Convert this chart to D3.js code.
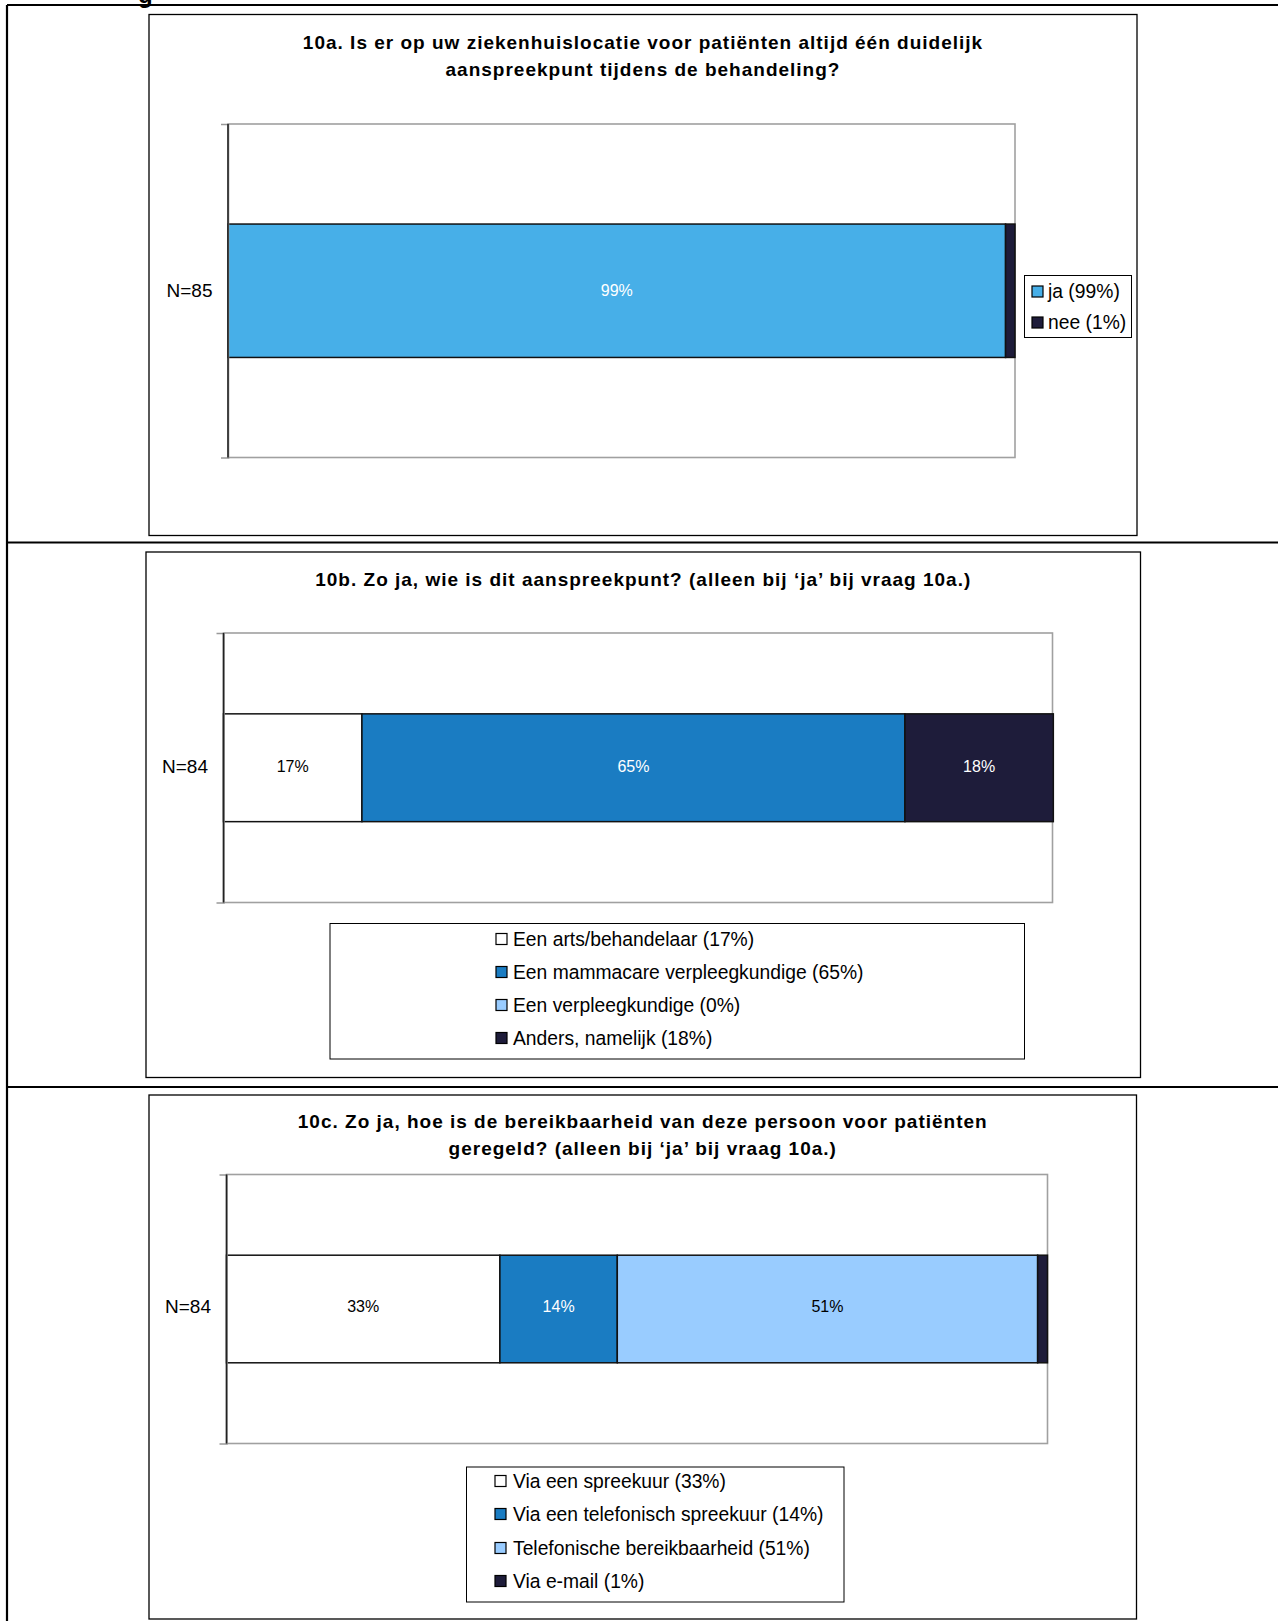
<!DOCTYPE html>
<html>
<head>
<meta charset="utf-8">
<script src="https://cdn.jsdelivr.net/npm/d3@7"></script>
<style>
  html, body { margin: 0; padding: 0; background: #fff; }
  svg { display: block; }
  text { font-family: "Liberation Sans", Arial, sans-serif; }
</style>
</head>
<body>
<svg id="chart" width="1278" height="1621"></svg>
<script>
// ---------------- DATA ----------------
const q10aTitle = ["10a. Is er op uw ziekenhuislocatie voor patiënten altijd één duidelijk",
                   "aanspreekpunt tijdens de behandeling?"];
const q10aCategories = ["N=85"];
const q10aSeries = ["ja (99%)", "nee (1%)"];
const q10aValues = [98.8, 1.2];
const q10aBarLabels = ["99%", ""];

const q10bTitle = ["10b. Zo ja, wie is dit aanspreekpunt? (alleen bij \u2018ja\u2019 bij vraag 10a.)"];
const q10bCategories = ["N=84"];
const q10bSeries = ["Een arts/behandelaar (17%)", "Een mammacare verpleegkundige (65%)",
                    "Een verpleegkundige (0%)", "Anders, namelijk (18%)"];
const q10bValues = [16.7, 65.5, 0, 17.9];
const q10bBarLabels = ["17%", "65%", "", "18%"];

const q10cTitle = ["10c. Zo ja, hoe is de bereikbaarheid van deze persoon voor patiënten",
                   "geregeld? (alleen bij \u2018ja\u2019 bij vraag 10a.)"];
const q10cCategories = ["N=84"];
const q10cSeries = ["Via een spreekuur (33%)", "Via een telefonisch spreekuur (14%)",
                    "Telefonische bereikbaarheid (51%)", "Via e-mail (1%)"];
const q10cValues = [33.3, 14.3, 51.2, 1.2];
const q10cBarLabels = ["33%", "14%", "51%", ""];

// ---------------- STYLE / LAYOUT ----------------
const C_WHITE = "#ffffff", C_MID = "#1a7cc2", C_SKY = "#47afe8", C_LIGHT = "#99ccff", C_NAVY = "#1e1c3a";

const panels = [
  {
    title: q10aTitle, cats: q10aCategories, series: q10aSeries, values: q10aValues, labels: q10aBarLabels,
    colors: [C_SKY, C_NAVY], labelColors: ["#fff", "#fff"],
    box: [149, 14.5, 1137, 535.5], titleY: [49, 76],
    plot: [228, 124, 1015, 457.5], textShift: 0,
    legend: { box: [1024.5, 275.5, 1131.5, 337.5], sqX: 1032, textX: 1048, ys: [291.5, 322.5] }
  },
  {
    title: q10bTitle, cats: q10bCategories, series: q10bSeries, values: q10bValues, labels: q10bBarLabels,
    colors: [C_WHITE, C_MID, C_LIGHT, C_NAVY], labelColors: ["#000", "#fff", "#000", "#fff"],
    box: [146, 552, 1140.5, 1077.5], titleY: [586],
    plot: [223.5, 633, 1052.5, 902.5], textShift: -1,
    legend: { box: [330, 923.5, 1024.5, 1059], sqX: 496, textX: 513, ys: [939, 972, 1005, 1038] }
  },
  {
    title: q10cTitle, cats: q10cCategories, series: q10cSeries, values: q10cValues, labels: q10cBarLabels,
    colors: [C_WHITE, C_MID, C_LIGHT, C_NAVY], labelColors: ["#000", "#fff", "#000", "#fff"],
    box: [149, 1095, 1136.5, 1619], titleY: [1128, 1155],
    plot: [226.5, 1174.5, 1047.5, 1443.5], textShift: -2.5,
    legend: { box: [466.5, 1467, 844, 1602], sqX: 495, textX: 513, ys: [1481, 1514, 1548, 1581] }
  }
];

const svg = d3.select("#chart");

// cut-off heading fragment at the very top (as in the source page)
svg.append("text").attr("x", 138).attr("y", 2.5)
  .attr("font-size", 24).attr("font-weight", "bold").text("g");

// outer table lines
const outer = svg.append("g").attr("stroke", "#000").attr("stroke-width", 2.2);
outer.append("line").attr("x1", 7).attr("x2", 7).attr("y1", 5).attr("y2", 1621);
[5, 542.5, 1087].forEach(y => outer.append("line").attr("x1", 7).attr("x2", 1278).attr("y1", y).attr("y2", y));

panels.forEach(p => {
  const g = svg.append("g");
  const [bx0, by0, bx1, by1] = p.box;
  g.append("rect").attr("x", bx0).attr("y", by0).attr("width", bx1 - bx0).attr("height", by1 - by0)
    .attr("fill", "#fff").attr("stroke", "#000").attr("stroke-width", 1.3);

  const cx = (bx0 + bx1) / 2;
  p.title.forEach((t, i) => {
    g.append("text").attr("x", cx).attr("y", p.titleY[i]).attr("text-anchor", "middle")
      .attr("font-size", 19).attr("font-weight", "bold").attr("letter-spacing", 1.0).text(t);
  });

  const [px0, py0, px1, py1] = p.plot;
  const x = d3.scaleLinear().domain([0, 100]).range([px0, px1]);
  const y = d3.scaleBand().domain(p.cats).range([py0, py1]).paddingInner(0.6).paddingOuter(0.3);

  // plot area border
  g.append("rect").attr("x", px0).attr("y", py0).attr("width", px1 - px0).attr("height", py1 - py0)
    .attr("fill", "#fff").attr("stroke", "#a0a0a0").attr("stroke-width", 1.6);

  // stacked bar
  const row = {}; p.series.forEach((s, i) => row[s] = p.values[i]);
  row.cat = p.cats[0];
  const stacked = d3.stack().keys(p.series)([row]);
  stacked.forEach((layer, i) => {
    const d = layer[0];
    if (p.values[i] <= 0) return;
    g.append("rect")
      .attr("x", x(d[0])).attr("y", y(d.data.cat))
      .attr("width", x(d[1]) - x(d[0])).attr("height", y.bandwidth())
      .attr("fill", p.colors[i]).attr("stroke", "#111").attr("stroke-width", 1.5);
  });
  stacked.forEach((layer, i) => {
    const d = layer[0];
    if (!p.labels[i]) return;
    g.append("text")
      .attr("x", (x(d[0]) + x(d[1])) / 2).attr("y", y(d.data.cat) + y.bandwidth() / 2 + p.textShift)
      .attr("dy", "0.35em").attr("text-anchor", "middle").attr("font-size", 16)
      .attr("fill", p.labelColors[i]).text(p.labels[i]);
  });

  // category axis
  const axis = d3.axisLeft(y).tickSizeInner(0).tickSizeOuter(7).tickPadding(15.5);
  const ag = g.append("g").attr("transform", `translate(${px0},0)`).call(axis);
  ag.select(".domain").attr("stroke", "#999").attr("stroke-width", 1.6);
  ag.selectAll("text").attr("font-size", 19).attr("fill", "#000")
    .attr("transform", `translate(0,${p.textShift})`)
    .attr("font-family", "'Liberation Sans', Arial, sans-serif");
  g.append("line").attr("x1", px0).attr("x2", px0).attr("y1", py0).attr("y2", py1)
    .attr("stroke", "#222").attr("stroke-width", 1.5);

  // legend
  const L = p.legend;
  const [lx0, ly0, lx1, ly1] = L.box;
  g.append("rect").attr("x", lx0).attr("y", ly0).attr("width", lx1 - lx0).attr("height", ly1 - ly0)
    .attr("fill", "#fff").attr("stroke", "#000").attr("stroke-width", 1);
  p.series.forEach((s, i) => {
    g.append("rect").attr("x", L.sqX).attr("y", L.ys[i] - 5.5).attr("width", 11).attr("height", 11)
      .attr("fill", p.colors[i]).attr("stroke", "#000").attr("stroke-width", 1.2);
    g.append("text").attr("x", L.textX).attr("y", L.ys[i]).attr("dy", "0.35em")
      .attr("font-size", 19.3).attr("fill", "#000").text(s);
  });
});
</script>
</body>
</html>
